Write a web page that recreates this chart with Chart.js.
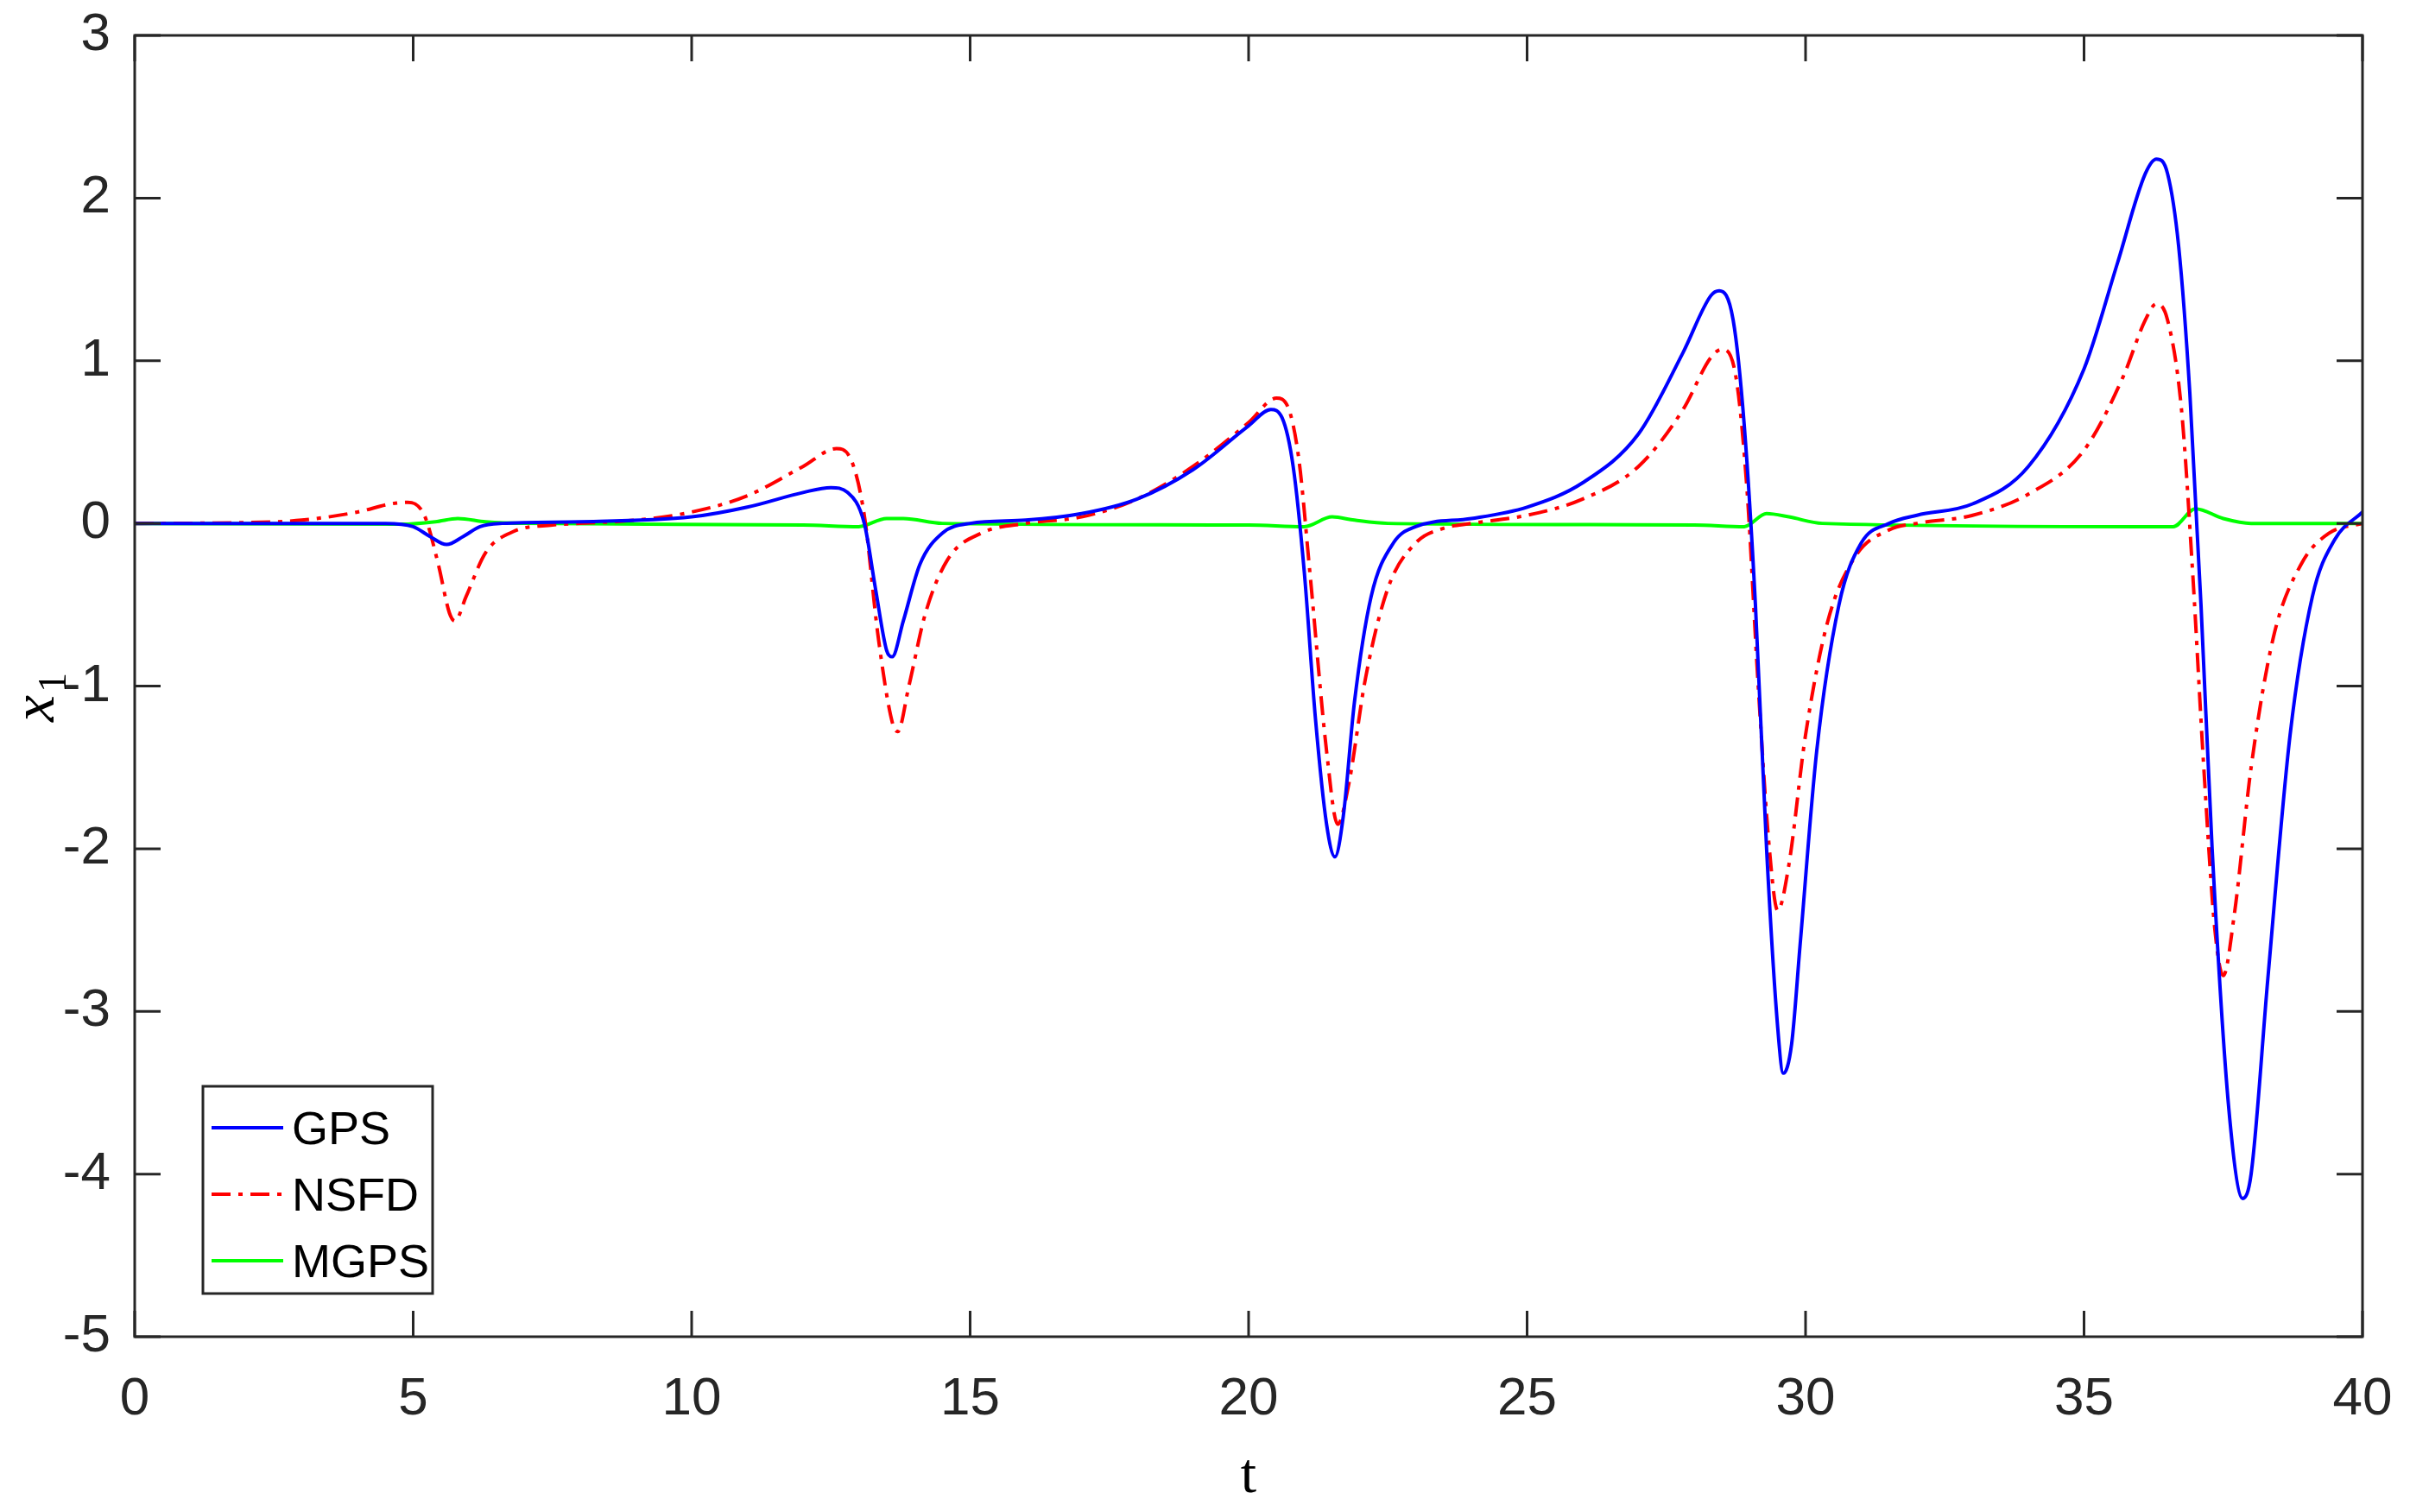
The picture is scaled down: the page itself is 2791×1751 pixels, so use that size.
<!DOCTYPE html>
<html><head><meta charset="utf-8">
<script src="https://cdn.jsdelivr.net/npm/chart.js@4"></script>
<style>html,body{margin:0;padding:0;background:#fff}canvas{display:block}</style>
</head><body>
<canvas id="c" width="2791" height="1751" style="width:2791px;height:1751px"></canvas>
<script>
const gpsT=[0,4.5,5,5.3,5.6,5.9,6.2,6.6,8,10,11,12,12.5,12.8,13.1,13.3,13.5,13.6,13.8,14.1,14.5,15,16,17,18,19,20,20.4,20.6,20.8,21,21.2,21.4,21.55,21.7,21.9,22.2,22.6,23,24,25,26,27,27.8,28.3,28.45,28.7,28.9,29.1,29.3,29.5,29.6,29.75,29.9,30.2,30.6,31,31.5,32,33,34,35,35.6,36.1,36.3,36.5,36.7,36.9,37.1,37.3,37.6,37.85,38,38.3,38.7,39.1,39.5,40];
const gpsV=[0,0,-0.02,-0.08,-0.13,-0.08,-0.02,0,0.01,0.04,0.1,0.19,0.22,0.19,0.0,-0.4,-0.78,-0.82,-0.6,-0.25,-0.06,0,0.02,0.06,0.15,0.33,0.6,0.7,0.65,0.35,-0.3,-1.2,-1.85,-2.05,-1.8,-1.1,-0.45,-0.12,-0.02,0.03,0.1,0.25,0.55,1.05,1.4,1.43,1.25,0.6,-0.5,-2.0,-3.1,-3.38,-3.2,-2.6,-1.4,-0.5,-0.12,0,0.05,0.12,0.35,0.95,1.6,2.15,2.24,2.15,1.7,0.8,-0.5,-2.0,-3.6,-4.15,-4.0,-2.8,-1.3,-0.45,-0.1,0.07];
const nsfdT=[0,2,3,4,4.6,4.9,5.2,5.45,5.65,5.75,5.95,6.3,6.8,7.5,8,9,10,11,12,12.6,12.85,13.1,13.35,13.6,13.7,13.9,14.2,14.6,15.2,16,17,18,19,20,20.5,20.7,20.9,21.1,21.4,21.6,21.8,22.1,22.5,23,23.5,24,25,26,27,27.8,28.3,28.5,28.75,28.95,29.15,29.35,29.5,29.7,30,30.4,30.9,31.5,32,33,34,35,35.7,36.1,36.3,36.5,36.75,36.95,37.15,37.35,37.5,37.7,38,38.4,38.9,39.4,40];
const nsfdV=[0,0.005,0.02,0.07,0.12,0.13,0.05,-0.25,-0.55,-0.6,-0.45,-0.18,-0.05,-0.01,0,0.02,0.07,0.17,0.35,0.46,0.4,0.05,-0.7,-1.22,-1.28,-1.0,-0.55,-0.22,-0.06,0,0.04,0.15,0.35,0.62,0.77,0.72,0.4,-0.3,-1.4,-1.85,-1.6,-0.95,-0.4,-0.12,-0.03,0,0.05,0.15,0.35,0.7,1.02,1.07,0.9,0.2,-1.0,-2.0,-2.38,-2.1,-1.3,-0.6,-0.2,-0.04,0,0.05,0.18,0.45,0.9,1.25,1.35,1.25,0.7,-0.3,-1.5,-2.5,-2.78,-2.4,-1.5,-0.7,-0.25,-0.06,0];
const mgpsT=[0,4.8,5.4,5.8,6.3,7,12,13,13.5,13.8,14.5,20,21,21.5,21.9,22.5,28,28.9,29.3,29.7,30.3,36,36.6,37,37.5,38,40];
const mgpsV=[0,-0.005,0.01,0.03,0.01,0,-0.01,-0.02,0.03,0.03,0,-0.01,-0.02,0.04,0.02,0,-0.01,-0.02,0.06,0.04,0,-0.02,-0.02,0.09,0.03,0,0];
const xTicks=[0,5,10,15,20,25,30,35,40];
const yTicks=[-5,-4,-3,-2,-1,0,1,2,3];
const names=['GPS','NSFD','MGPS'];
const pts=(t,v)=>t.map((x,i)=>({x,y:v[i]}));
const AX='#262626', FONT='"Liberation Sans", Arial, sans-serif';
const frame={id:'frame',afterDraw(ch){
  const c=ch.ctx,a=ch.chartArea,xs=ch.scales.x,ys=ch.scales.y;
  c.save();c.strokeStyle=AX;c.lineWidth=3;
  c.strokeRect(a.left,a.top,a.right-a.left,a.bottom-a.top);
  c.lineWidth=3;
  xTicks.forEach(v=>{const p=xs.getPixelForValue(v);c.beginPath();c.moveTo(p,a.bottom);c.lineTo(p,a.bottom-30);c.moveTo(p,a.top);c.lineTo(p,a.top+30);c.stroke();});
  yTicks.forEach(v=>{const p=ys.getPixelForValue(v);c.beginPath();c.moveTo(a.left,p);c.lineTo(a.left+30,p);c.moveTo(a.right,p);c.lineTo(a.right-30,p);c.stroke();});
  const lx=235,ly=1258,lw=266,lh=240;
  c.fillStyle='#fff';c.fillRect(lx,ly,lw,lh);c.lineWidth=3;c.strokeRect(lx,ly,lw,lh);
  ch.data.datasets.forEach((d,i)=>{const y=ly+48+i*77;
    c.strokeStyle=d.borderColor;c.lineWidth=4;c.setLineDash(d.borderDash||[]);
    c.beginPath();c.moveTo(245,y);c.lineTo(328,y);c.stroke();c.setLineDash([]);
    c.fillStyle='#000';c.font='54px '+FONT;c.textBaseline='middle';c.fillText(d.label,338,y+4);});
  c.translate(48,810);c.rotate(-Math.PI/2);c.fillStyle='#000';
  c.font='italic 70px "Liberation Serif","DejaVu Serif",serif';c.textBaseline='alphabetic';
  c.fillText('x',-26,14);c.font='46px "Liberation Serif",serif';c.fillText('1',8,28);
  c.restore();
  c.save();c.fillStyle='#000';c.font='66px "Liberation Serif",serif';c.textAlign='center';c.textBaseline='alphabetic';
  c.fillText('t',(a.left+a.right)/2,1728);c.restore();
}};
new Chart(document.getElementById('c'),{
  type:'line',
  data:{datasets:[
    {label:names[0],data:pts(gpsT,gpsV),borderColor:'#0000ff',borderWidth:4},
    {label:names[1],data:pts(nsfdT,nsfdV),borderColor:'#ff0000',borderWidth:4,borderDash:[22,9,5,9]},
    {label:names[2],data:pts(mgpsT,mgpsV),borderColor:'#00ff00',borderWidth:4}
  ]},
  options:{responsive:false,animation:false,devicePixelRatio:1,
    elements:{point:{radius:0},line:{cubicInterpolationMode:'monotone'}},
    layout:{padding:{left:0,right:55,top:41,bottom:0}},
    plugins:{legend:{display:false},tooltip:{enabled:false}},
    scales:{
      x:{type:'linear',min:0,max:40,afterBuildTicks:s=>{s.ticks=xTicks.map(v=>({value:v}))},
        afterFit:s=>{s.height=203;s.paddingLeft=0;s.paddingRight=0},grid:{display:false},border:{display:false},
        ticks:{color:AX,font:{size:62,family:FONT},padding:28,maxRotation:0}},
      y:{min:-5,max:3,afterBuildTicks:s=>{s.ticks=yTicks.map(v=>({value:v}))},
        afterFit:s=>{s.width=156;s.paddingTop=0;s.paddingBottom=0},grid:{display:false},border:{display:false},
        ticks:{color:AX,font:{size:62,family:FONT},padding:20}}
    }},
  plugins:[frame]
});
</script></body></html>
